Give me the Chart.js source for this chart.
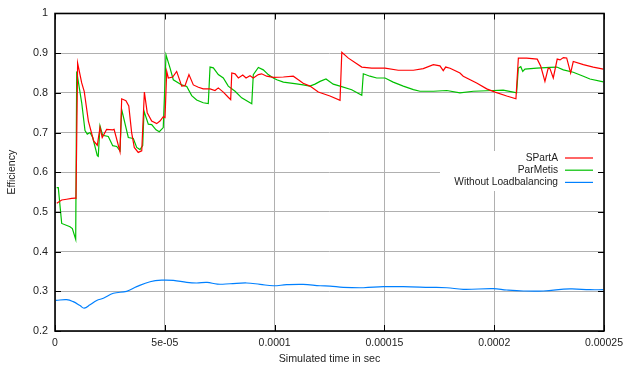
<!DOCTYPE html>
<html>
<head>
<meta charset="utf-8">
<script src="https://cdn.jsdelivr.net/npm/chart.js@4.4.0/dist/chart.umd.min.js"></script>
<style>
  html, body { margin: 0; padding: 0; background: #fff; }
  #wrap { width: 624px; height: 368px; }
</style>
</head>
<body>
<div id="wrap"><canvas id="effChart" width="624" height="368"></canvas></div>
<script>
// simulated time in microseconds, efficiency
const timeSpartA = [0.8, 3.05, 5.3, 7.6, 9.1, 9.56, 10.3, 12.16, 13.3, 15.2, 17.6, 19.26, 20.49, 21.5, 23.5, 26.3, 26.9, 29.6, 30.37, 32.3, 33.6, 34.9, 36.1, 37.9, 39.5, 40.7, 42, 44.03, 46.3, 47.8, 49.3, 50.1, 50.87, 51.6, 53.6, 55.4, 57.7, 59.2, 61, 63, 65.3, 67.5, 70.6, 72.86, 74.36, 76.64, 78.9, 80, 80.5, 82, 83.5, 85.5, 87, 88.8, 90.3, 92.6, 94.1, 96.4, 99.4, 104, 108.5, 110.8, 113, 116.1, 119.9, 125.2, 129.8, 130.6, 133.6, 139.7, 144.2, 150.3, 156.3, 163.2, 167.7, 172.3, 175.3, 176.8, 177.9, 179.9, 184.4, 185.9, 192, 196.6, 200.4, 205.7, 209.9, 211, 214.8, 219.6, 221.2, 223.1, 224.6, 225.4, 226.9, 228.7, 230, 231.5, 233, 234.8, 236, 240.6, 245.1, 249.7];
const effSpartA = [0.522, 0.53, 0.532, 0.534, 0.535, 0.534, 0.875, 0.825, 0.804, 0.729, 0.679, 0.668, 0.7125, 0.6875, 0.708, 0.707, 0.708, 0.652, 0.785, 0.78, 0.767, 0.70, 0.6625, 0.65, 0.654, 0.802, 0.75, 0.729, 0.7225, 0.729, 0.74, 0.738, 0.854, 0.8375, 0.84, 0.854, 0.817, 0.818, 0.846, 0.82, 0.814, 0.81, 0.81, 0.806, 0.8125, 0.802, 0.789, 0.783, 0.85, 0.848, 0.8375, 0.845, 0.8375, 0.843, 0.8375, 0.846, 0.848, 0.842, 0.839, 0.84, 0.842, 0.833, 0.824, 0.817, 0.802, 0.792, 0.781, 0.902, 0.8875, 0.865, 0.8625, 0.8625, 0.857, 0.857, 0.861, 0.871, 0.868, 0.856, 0.865, 0.862, 0.85, 0.842, 0.825, 0.81, 0.802, 0.792, 0.785, 0.8875, 0.8875, 0.885, 0.867, 0.829, 0.8625, 0.861, 0.8375, 0.885, 0.883, 0.889, 0.888, 0.85, 0.879, 0.871, 0.865, 0.86];

const timeParMetis = [0.77, 1.5, 3.05, 6.83, 7.9, 9.43, 9.88, 12.16, 13.66, 14.7, 15.94, 17.17, 19.26, 19.7, 20.49, 21.72, 24.27, 26.28, 28.1, 29.6, 30.37, 33.38, 35.66, 37.2, 38.7, 39.94, 40.53, 42.49, 44.03, 46, 47.5, 49.3, 50.55, 52.4, 53.87, 57.7, 60, 62.25, 64.5, 67.5, 69.8, 70.6, 72.1, 74.36, 76.64, 78.9, 82, 85, 89.6, 90.3, 92.6, 94.85, 97.1, 99.4, 101, 104, 110, 113, 116.1, 118.4, 120.7, 123.4, 126.7, 129.8, 135.1, 139.7, 140.4, 143.4, 146.5, 150.3, 154, 158.6, 163.2, 166.2, 172.3, 178.4, 184.4, 190.5, 199.6, 204.1, 208.7, 210.2, 211, 212.1, 213, 214, 219.4, 225.4, 228.5, 231.5, 236, 240.6, 243.6, 249.7];
const effParMetis = [0.561, 0.561, 0.471, 0.4625, 0.458, 0.431, 0.854, 0.775, 0.705, 0.696, 0.70, 0.6875, 0.642, 0.64, 0.717, 0.693, 0.69, 0.667, 0.665, 0.654, 0.758, 0.6875, 0.685, 0.6625, 0.657, 0.667, 0.754, 0.721, 0.72, 0.707, 0.702, 0.7125, 0.896, 0.8625, 0.833, 0.82, 0.816, 0.793, 0.782, 0.775, 0.773, 0.865, 0.863, 0.846, 0.8375, 0.817, 0.804, 0.7875, 0.7725, 0.846, 0.864, 0.858, 0.846, 0.8375, 0.833, 0.827, 0.8225, 0.82, 0.817, 0.822, 0.829, 0.835, 0.822, 0.817, 0.808, 0.794, 0.848, 0.842, 0.8375, 0.8375, 0.827, 0.817, 0.808, 0.804, 0.804, 0.806, 0.80, 0.804, 0.806, 0.807, 0.802, 0.80, 0.8625, 0.866, 0.854, 0.86, 0.8625, 0.864, 0.865, 0.858, 0.852, 0.842, 0.835, 0.8275];

const timeNoLB = [0.46, 5.3, 8.3, 11.4, 13.3, 15.94, 19, 22, 26.6, 32.6, 37.2, 43.3, 48.6, 53.9, 60, 64.5, 69.3, 73.9, 79.7, 87.3, 93.4, 99.4, 105.5, 113, 120.7, 125.2, 131.3, 140.4, 149.5, 158.6, 170.8, 178.4, 185.9, 199.6, 205.7, 213.3, 222.4, 234.5, 243.6, 249.7];
const effNoLB = [0.277, 0.279, 0.274, 0.264, 0.2575, 0.266, 0.277, 0.2825, 0.295, 0.30, 0.3117, 0.324, 0.328, 0.3275, 0.3225, 0.321, 0.3225, 0.318, 0.319, 0.321, 0.3175, 0.314, 0.3167, 0.3175, 0.314, 0.313, 0.31, 0.309, 0.3117, 0.3117, 0.31, 0.309, 0.305, 0.3067, 0.3033, 0.3008, 0.3008, 0.306, 0.304, 0.304];

const xTickValues = [0, 50, 100, 150, 200, 250];
const xTickLabels = ['0', '5e-05', '0.0001', '0.00015', '0.0002', '0.00025'];
const yTickValues = [0.2, 0.3, 0.4, 0.5, 0.6, 0.7, 0.8, 0.9, 1];
const yTickLabels = ['0.2', '0.3', '0.4', '0.5', '0.6', '0.7', '0.8', '0.9', '1'];

const seriesNames = ['SPartA', 'ParMetis', 'Without Loadbalancing'];
const seriesColors = ['#ff0000', '#00c000', '#0080ff'];

const fontFamily = '"Liberation Sans", Arial, Helvetica, sans-serif';

function toPoints(times, values) {
    return times.map((t, i) => ({ x: t, y: values[i] }));
}

// gnuplot style frame with inward tick marks
const framePlugin = {
    id: 'frame',
    afterDatasetsDraw(chart) {
        const ctx = chart.ctx;
        // legend box (opaque, covers grid)
        const bx = 440, by = 151, bw = 162, bh = 40;
        ctx.save();
        ctx.fillStyle = '#fff';
        ctx.fillRect(bx, by, bw, bh);
        ctx.font = '10.2px ' + fontFamily;
        ctx.textAlign = 'right';
        ctx.textBaseline = 'middle';
        seriesNames.forEach((name, i) => {
            const y = 158 + i * 12.2;
            ctx.fillStyle = '#222';
            ctx.fillText(name, 558, y);
            ctx.strokeStyle = seriesColors[i];
            ctx.lineWidth = 1.2;
            ctx.beginPath();
            ctx.moveTo(565, y);
            ctx.lineTo(593, y);
            ctx.stroke();
        });
        ctx.restore();
    },
    afterDraw(chart) {
        const ctx = chart.ctx;
        const a = chart.chartArea;
        const xs = chart.scales.x, ys = chart.scales.y;
        ctx.save();
        ctx.strokeStyle = '#000';
        ctx.lineWidth = 1;
        ctx.beginPath();
        yTickValues.forEach(v => {
            const y = Math.round(ys.getPixelForValue(v)) + 0.5;
            ctx.moveTo(a.left, y); ctx.lineTo(a.left + 6, y);
            ctx.moveTo(a.right, y); ctx.lineTo(a.right - 6, y);
        });
        xTickValues.forEach(v => {
            const x = Math.round(xs.getPixelForValue(v)) + 0.5;
            ctx.moveTo(x, a.bottom); ctx.lineTo(x, a.bottom - 6);
            ctx.moveTo(x, a.top); ctx.lineTo(x, a.top + 6);
        });
        ctx.stroke();
        ctx.lineWidth = 1.6;
        ctx.strokeRect(a.left, a.top, a.right - a.left, a.bottom - a.top);
        ctx.restore();
    }
};

const ctx = document.getElementById('effChart').getContext('2d');
new Chart(ctx, {
    type: 'line',
    data: {
        datasets: [
            { label: seriesNames[0], data: toPoints(timeSpartA, effSpartA), borderColor: seriesColors[0], borderWidth: 1.2, pointRadius: 0, tension: 0 },
            { label: seriesNames[1], data: toPoints(timeParMetis, effParMetis), borderColor: seriesColors[1], borderWidth: 1.2, pointRadius: 0, tension: 0 },
            { label: seriesNames[2], data: toPoints(timeNoLB, effNoLB), borderColor: seriesColors[2], borderWidth: 1.2, pointRadius: 0, tension: 0.4 }
        ]
    },
    options: {
        responsive: false,
        animation: false,
        layout: { padding: { top: 10, right: 20, left: 0, bottom: 0 } },
        plugins: { legend: { display: false }, tooltip: { enabled: false } },
        scales: {
            x: {
                type: 'linear',
                min: 0,
                max: 250,
                afterBuildTicks: axis => { axis.ticks = xTickValues.map(v => ({ value: v })); },
                afterFit: scale => {
                    scale.height = 37;
                    scale.paddingLeft = 0;
                    scale.paddingRight = 0;
                },
                ticks: {
                    padding: 6,
                    color: '#222',
                    font: { family: fontFamily, size: 10.5 },
                    maxRotation: 0,
                    callback: (v) => xTickLabels[xTickValues.indexOf(v)]
                },
                grid: { color: '#b0b0b0', lineWidth: 1, drawTicks: false },
                border: { display: false },
                title: {
                    display: true,
                    text: 'Simulated time in sec',
                    color: '#222',
                    font: { family: fontFamily, size: 10.7 },
                    padding: { top: 0, bottom: 3 }
                }
            },
            y: {
                min: 0.2,
                max: 1,
                afterBuildTicks: axis => { axis.ticks = yTickValues.map(v => ({ value: v })); },
                afterFit: scale => { scale.width = 55; },
                ticks: {
                    padding: 7,
                    color: '#222',
                    font: { family: fontFamily, size: 10.8 },
                    callback: (v) => yTickLabels[yTickValues.findIndex(t => Math.abs(t - v) < 1e-9)]
                },
                grid: { color: '#b0b0b0', lineWidth: 1, drawTicks: false },
                border: { display: false },
                title: {
                    display: true,
                    text: 'Efficiency',
                    color: '#222',
                    font: { family: fontFamily, size: 10.5 },
                    padding: { top: 6, bottom: 0 }
                }
            }
        }
    },
    plugins: [framePlugin]
});
</script>
</body>
</html>
